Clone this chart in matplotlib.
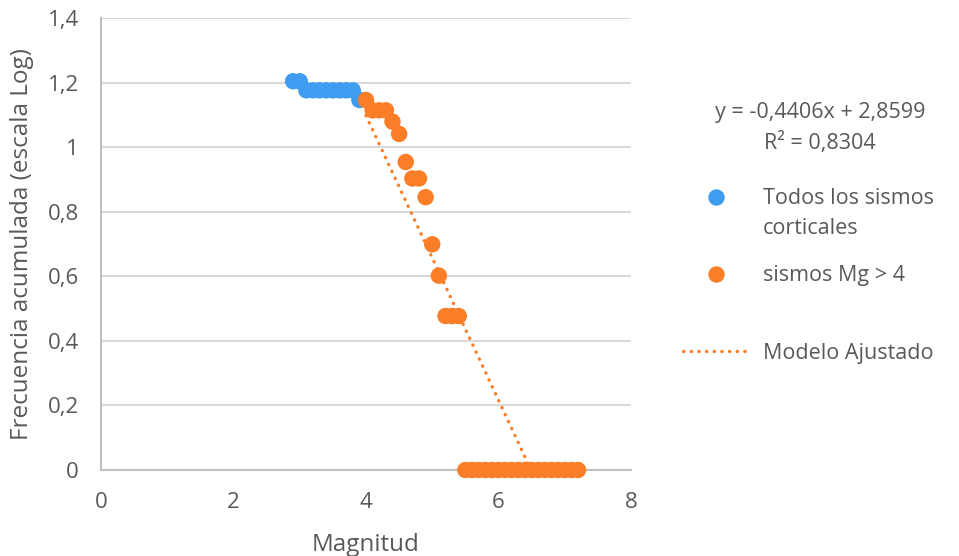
import matplotlib
matplotlib.use("Agg")
import matplotlib.pyplot as plt
from matplotlib.lines import Line2D
from matplotlib.ticker import FuncFormatter
import numpy as np

plt.rcParams['font.family'] = ['Open Sans', 'DejaVu Sans']

# Data
blue_x = [2.9, 3.0, 3.1, 3.2, 3.3, 3.4, 3.5, 3.6, 3.7, 3.8, 3.9]
blue_y = [1.204, 1.204, 1.176, 1.176, 1.176, 1.176, 1.176, 1.176, 1.176, 1.176, 1.146]

orange_x = [4.0, 4.1, 4.2, 4.3, 4.4, 4.5, 4.6, 4.7, 4.8, 4.9, 5.0, 5.1, 5.2, 5.3, 5.4,
            5.5, 5.6, 5.7, 5.8, 5.9, 6.0, 6.1, 6.2, 6.3, 6.4, 6.5, 6.6, 6.7, 6.8, 6.9,
            7.0, 7.1, 7.2]
orange_y = [1.146, 1.114, 1.114, 1.114, 1.079, 1.041, 0.954, 0.903, 0.903, 0.845,
            0.699, 0.602, 0.477, 0.477, 0.477,
            0, 0, 0, 0, 0, 0, 0, 0, 0, 0, 0, 0, 0, 0, 0, 0, 0, 0]

slope = -0.4406
intercept = 2.8599
r2 = 0.8304

x_ticks = [0, 2, 4, 6, 8]
y_ticks = [0, 0.2, 0.4, 0.6, 0.8, 1.0, 1.2, 1.4]

BLUE = '#3F9CF0'
ORANGE = '#FA7D27'
TXT = '#595959'
GRID = '#D9D9D9'

fig = plt.figure(figsize=(9.59, 5.56), dpi=100)
ax = fig.add_axes([101/959, 1 - 470/556, 530/959, 452/556])

ax.scatter(blue_x, blue_y, s=140, color=BLUE, edgecolors='none', zorder=3, clip_on=False)
ax.scatter(orange_x, orange_y, s=140, color=ORANGE, edgecolors='none', zorder=4, clip_on=False)

tx = np.array([orange_x[0], orange_x[-1]])
ax.plot(tx, slope * tx + intercept, color=ORANGE, lw=2.4,
        linestyle=(0, (0.1, 2.2)), dash_capstyle='round', zorder=5)

ax.set_xlim(0, 8)
ax.set_ylim(0, 1.4)
ax.set_xticks(x_ticks)
ax.set_yticks(y_ticks)

def fmt(v, pos):
    s = ('%.1f' % v).rstrip('0').rstrip('.')
    return s.replace('.', ',')
ax.xaxis.set_major_formatter(FuncFormatter(fmt))
ax.yaxis.set_major_formatter(FuncFormatter(fmt))

ax.tick_params(axis='both', length=0, labelsize=16, labelcolor=TXT)
ax.tick_params(axis='y', pad=16)
ax.tick_params(axis='x', pad=16)
ax.grid(axis='y', color=GRID, lw=1.5)
ax.set_axisbelow(True)
for s in ['top', 'right']:
    ax.spines[s].set_visible(False)
for s in ['left', 'bottom']:
    ax.spines[s].set_color('#BFBFBF')
    ax.spines[s].set_linewidth(1.5)

ax.set_xlabel('Magnitud', fontsize=17.5, color=TXT, labelpad=14)
ax.set_ylabel('Frecuencia acumulada (escala Log)', fontsize=17.5, color=TXT, labelpad=10)

# Equation
eq = 'y = %sx + %s\nR² = %s' % (('%.4f' % slope).replace('.', ','),
                                 ('%.4f' % intercept).replace('.', ','),
                                 ('%.4f' % r2).replace('.', ','))
fig.text(820/959, 1 - 128/556, eq,
         ha='center', va='center', fontsize=15.5, color=TXT, linespacing=1.5,
         multialignment='center')

# Legends
common = dict(frameon=False, borderpad=0, borderaxespad=0, handlelength=3.1,
              handletextpad=0.6, fontsize=15.5, labelcolor=TXT, loc='center left')
h1 = Line2D([], [], ls='none', marker='o', ms=11.8, color=BLUE, mec='none')
h2 = Line2D([], [], ls='none', marker='o', ms=11.8, color=ORANGE, mec='none')
h3 = Line2D([], [], color=ORANGE, lw=2.4, linestyle=(0, (0.1, 2.2)), dash_capstyle='round')
l1 = fig.legend([h1], ['Todos los sismos'], bbox_to_anchor=(683/959, 1 - 199/556), **common)
l2 = fig.legend([h2], ['sismos Mg > 4'], bbox_to_anchor=(683/959, 1 - 276/556), **common)
l3 = fig.legend([h3], ['Modelo Ajustado'], bbox_to_anchor=(683/959, 1 - 353/556), **common)

fig.canvas.draw()
bb = l1.get_texts()[0].get_window_extent()
fig.text(bb.x0 / fig.bbox.width, 1 - 229/556, 'corticales', ha='left', va='center',
         fontsize=15.5, color=TXT)

fig.savefig('out.png', dpi=100)
